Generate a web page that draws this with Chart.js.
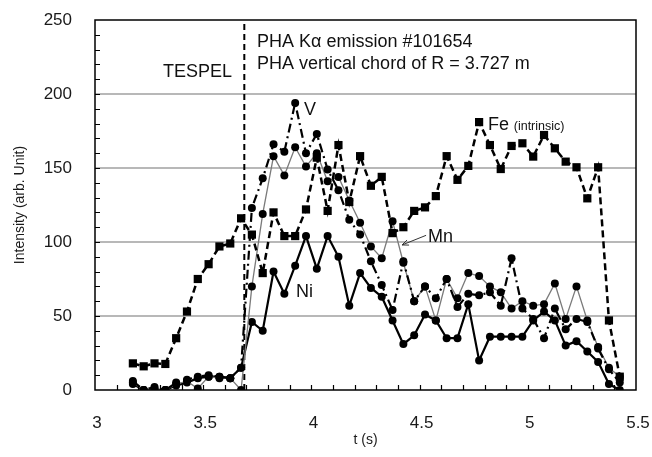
<!DOCTYPE html>
<html><head><meta charset="utf-8">
<script src="https://cdn.jsdelivr.net/npm/chart.js@4.4.0/dist/chart.umd.min.js"></script>
<style>html,body{margin:0;padding:0;background:#fff;}canvas{display:block;}</style>
</head><body>
<canvas id="c" width="652" height="457" style="width:652px;height:457px"></canvas>
<script>
// ---- data ----
const times = [3.175,3.225,3.275,3.325,3.375,3.425,3.475,3.525,3.575,3.625,3.675,3.725,3.775,3.825,3.875,3.925,3.975,4.025,4.075,4.125,4.175,4.225,4.275,4.325,4.375,4.425,4.475,4.525,4.575,4.625,4.675,4.725,4.775,4.825,4.875,4.925,4.975,5.025,5.075,5.125,5.175,5.225,5.275,5.325,5.375,5.425];
const feValues = [18,16,18,17.6,35,53,75,85,97,99,116,105,79,120,104,104,122,157,121,165.5,127,158,138,144,106,110,121,123.4,131,158,142,151.4,181,165.5,149.3,164.9,166.7,157.7,172.3,163.3,154.3,150.5,129.5,150.5,47,9];
const vValues  = [6,0,2,0,5,7,9,10,9,8,15,123,143,166,161,194,160,173,149,135,115,105,87,71,54,87,60,70,62,75,56,65,64,66,57,89,55,48,35,55,41,48,46,28,14,5];
const mnValues = [5,0,1,0,4,6,1,9,8,8,0,70,119,158,145,164,151,160,141,144,128,113,97,89,114,86,60,70,47,75,62,79,77,70,66,55,60,57,58,72,48,70,47,29,15,9];
const niValues = [4,0,0,0,3,5,8,9,9,8,15,46,40,80,65,84,104,82,104,90,57,79,69,63,47,31,37,51,47,35,35,58,20,36,36,36,36,47,53,47,30,33,26,19,4,0];
const xTickLabels = [3, 3.5, 4, 4.5, 5, 5.5];
const yTickLabels = [0, 50, 100, 150, 200, 250];
const tespelTime = 3.69;
const seriesNames = ['Fe (intrinsic)', 'V', 'Mn', 'Ni'];

const FONT = '"Liberation Sans", Arial, Helvetica, sans-serif';
const pts = vals => times.map((t, i) => ({x: t, y: vals[i]}));

const overlay = {
  id: 'overlay',
  beforeDatasetsDraw(chart) {
    const {ctx, chartArea: a, scales: {x, y}} = chart;
    ctx.save();
    const px = x.getPixelForValue(tespelTime);
    ctx.strokeStyle = '#000';
    ctx.lineWidth = 2;
    ctx.setLineDash([6, 4]);
    ctx.beginPath(); ctx.moveTo(px, a.bottom); ctx.lineTo(px, a.top); ctx.stroke();
    ctx.restore();
  },
  afterDatasetsDraw(chart) {
    const {ctx, chartArea: a, scales: {x, y}} = chart;
    ctx.save();
    // frame
    ctx.strokeStyle = '#000'; ctx.lineWidth = 1.5; ctx.setLineDash([]);
    ctx.strokeRect(a.left, a.top, a.right - a.left, a.bottom - a.top);
    // minor ticks (inside)
    ctx.lineWidth = 1.2;
    ctx.beginPath();
    for (let v = 10; v < 250; v += 10) {
      const py = Math.round(y.getPixelForValue(v)) + 0.5;
      ctx.moveTo(a.left, py); ctx.lineTo(a.left + 5, py);
    }
    for (let i = 1; i < 25; i++) {
      const t = 3 + i * 0.1;
      const pxx = Math.round(x.getPixelForValue(t)) + 0.5;
      ctx.moveTo(pxx, a.bottom); ctx.lineTo(pxx, a.bottom - 5);
    }
    ctx.stroke();
    // texts
    ctx.fillStyle = '#111';
    ctx.textBaseline = 'alphabetic';
    const P = (t, v) => [x.getPixelForValue(t), y.getPixelForValue(v)];
    const txt = (s, t, v, size, align) => {
      ctx.font = size + 'px ' + FONT;
      ctx.textAlign = align || 'left';
      const [xx, yy] = P(t, v);
      ctx.fillText(s, xx, yy);
    };
    txt('PHA K\u03b1 emission #101654', 3.749, 232, 18);
    txt('PHA vertical chord of R = 3.727 m', 3.749, 216.6, 18);
    txt('TESPEL', 3.633, 211.5, 18, 'right');
    txt(seriesNames[1], 3.966, 186, 18);
    txt(seriesNames[3], 3.929, 63, 18);
    txt(seriesNames[2], 4.539, 100, 18);
    txt('Fe', 4.816, 175.7, 18);
    txt('(intrinsic)', 4.935, 175.7, 12.5);
    // Mn arrow
    const [x1, y1] = P(4.530, 104.5);
    const [x2, y2] = P(4.419, 98);
    ctx.strokeStyle = '#333'; ctx.lineWidth = 1;
    ctx.beginPath(); ctx.moveTo(x1, y1); ctx.lineTo(x2, y2); ctx.stroke();
    const ang = Math.atan2(y2 - y1, x2 - x1);
    ctx.beginPath();
    ctx.moveTo(x2 - 7 * Math.cos(ang - 0.4), y2 - 7 * Math.sin(ang - 0.4));
    ctx.lineTo(x2, y2);
    ctx.lineTo(x2 - 7 * Math.cos(ang + 0.4), y2 - 7 * Math.sin(ang + 0.4));
    ctx.stroke();
    ctx.restore();
  }
};

new Chart(document.getElementById('c'), {
  type: 'line',
  data: {
    datasets: [
      {label: seriesNames[0], data: pts(feValues), borderColor: '#000', backgroundColor: '#000', borderWidth: 2.5, borderDash: [7, 4], pointStyle: 'rect', pointRadius: 5.8, pointBorderWidth: 0, tension: 0},
      {label: seriesNames[1], data: pts(vValues), borderColor: '#000', backgroundColor: '#000', borderWidth: 2.2, borderDash: [9, 4, 2, 4], pointStyle: 'circle', pointRadius: 4, pointBorderWidth: 0, tension: 0},
      {label: seriesNames[2], data: pts(mnValues), borderColor: '#7a7a7a', backgroundColor: '#000', pointBorderColor: '#000', borderWidth: 1.3, pointStyle: 'circle', pointRadius: 4, pointBorderWidth: 0, tension: 0},
      {label: seriesNames[3], data: pts(niValues), borderColor: '#000', backgroundColor: '#000', borderWidth: 2.2, pointStyle: 'circle', pointRadius: 4, pointBorderWidth: 0, tension: 0}
    ]
  },
  options: {
    responsive: false,
    animation: false,
    events: [],
    layout: {padding: {top: 20, right: 16, left: 0, bottom: 0}},
    plugins: {legend: {display: false}, tooltip: {enabled: false}},
    scales: {
      x: {
        type: 'linear', min: 3, max: 5.5,
        afterBuildTicks: s => { s.ticks = xTickLabels.map(v => ({value: v})); },
        afterFit: s => { s.height = 67; s.paddingLeft = 0; s.paddingRight = 0; },
        ticks: {callback: v => String(v), font: {family: FONT, size: 17}, color: '#1a1a1a', padding: 23, maxRotation: 0, autoSkip: false, labelOffset: 2},
        grid: {display: false, drawTicks: false},
        border: {display: false},
        title: {display: true, text: 't (s)', font: {family: FONT, size: 14}, color: '#1a1a1a', padding: {top: 0, bottom: 8}}
      },
      y: {
        min: 0, max: 250,
        afterBuildTicks: s => { s.ticks = yTickLabels.map(v => ({value: v})); },
        afterFit: s => { s.width = 95; s.paddingTop = 0; s.paddingBottom = 0; },
        ticks: {font: {family: FONT, size: 17}, color: '#1a1a1a', padding: 23},
        grid: {drawTicks: false, lineWidth: 2, color: c => (c.tick && c.tick.value > 0 && c.tick.value < 250) ? '#b8b8b8' : 'rgba(0,0,0,0)'},
        border: {display: false},
        title: {display: true, text: 'Intensity (arb. Unit)', font: {family: FONT, size: 14}, color: '#1a1a1a', padding: {top: 12, bottom: 0}}
      }
    }
  },
  plugins: [overlay]
});
</script>
</body></html>
